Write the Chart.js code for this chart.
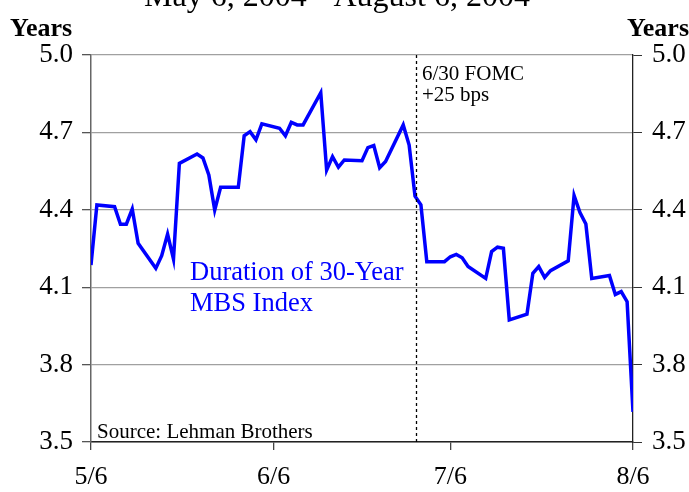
<!DOCTYPE html>
<html>
<head>
<meta charset="utf-8">
<script src="https://cdn.jsdelivr.net/npm/chart.js@4.4.1/dist/chart.umd.min.js"></script>
<style>
  html, body { margin: 0; padding: 0; background: #fff; }
  #wrap { width: 689px; height: 492px; position: relative; }
</style>
</head>
<body>
<div id="wrap"><canvas id="mbsChart"></canvas></div>
<script>
// days counted from 5/6/2004
const dayOffsets = [0, 1, 4, 5, 6, 7, 8, 11, 12, 13, 14, 15, 18, 19, 20, 21, 22, 25, 26, 27, 28, 29,
    32, 33, 34, 35, 36, 39, 40, 41, 42, 43, 46, 47, 48, 49, 50, 53, 54, 55, 56, 57, 60,
    61, 62, 63, 64, 67, 68, 69, 70, 71, 74, 75, 76, 77, 78, 81, 82, 83, 84, 85, 88, 89, 90, 91, 92];
const durationYears = [4.186, 4.419, 4.412, 4.344, 4.344, 4.403, 4.270, 4.173, 4.222, 4.306, 4.209, 4.580,
    4.616, 4.601, 4.535, 4.399, 4.487, 4.487, 4.687, 4.703, 4.671, 4.733,
    4.716, 4.687, 4.739, 4.729, 4.729, 4.854, 4.554, 4.606, 4.565, 4.593, 4.590, 4.641, 4.649, 4.563, 4.587,
    4.729, 4.651, 4.453, 4.419, 4.199, 4.199,
    4.218, 4.227, 4.214, 4.180, 4.134, 4.238, 4.255, 4.251, 3.973, 3.995, 4.154, 4.180, 4.138, 4.164,
    4.202, 4.455, 4.389, 4.345, 4.134, 4.145, 4.072, 4.083, 4.044, 3.617];
const xTickDays = [0, 31, 61, 92];
const xTickLabels = ['5/6', '6/6', '7/6', '8/6'];
const yTicks = [3.5, 3.8, 4.1, 4.4, 4.7, 5.0];
const fomcDay = 55.2;

const serif = '"Liberation Serif", "Times New Roman", serif';

// title, axis units, notes and the FOMC marker
const annotations = {
    id: 'annotations',
    afterDatasetsDraw(chart) {
        const { ctx, chartArea, scales } = chart;
        ctx.save();
        // dotted FOMC line
        const fx = Math.round(scales.x.getPixelForValue(fomcDay)) + 0.5;
        ctx.strokeStyle = '#000';
        ctx.lineWidth = 1.3;
        ctx.setLineDash([3, 3]);
        ctx.beginPath();
        ctx.moveTo(fx, chartArea.top);
        ctx.lineTo(fx, chartArea.bottom);
        ctx.stroke();
        ctx.setLineDash([]);

        ctx.fillStyle = '#000';
        ctx.textBaseline = 'alphabetic';
        ctx.font = '32px ' + serif;
        ctx.textAlign = 'center';
        ctx.fillText('May 6, 2004 - August 6, 2004', 337, 6);

        ctx.font = 'bold 26px ' + serif;
        ctx.textAlign = 'left';
        ctx.fillText('Years', 10, 36);
        ctx.textAlign = 'right';
        ctx.fillText('Years', 689, 36);

        ctx.textAlign = 'left';
        ctx.font = '21px ' + serif;
        ctx.fillText('6/30 FOMC', 422, 80);
        ctx.fillText('+25 bps', 422, 101);
        ctx.fillText('Source: Lehman Brothers', 97, 438);

        ctx.fillStyle = '#0000ff';
        ctx.font = '26.5px ' + serif;
        ctx.fillText('Duration of 30-Year', 190, 280);
        ctx.fillText('MBS Index', 190, 311);
        ctx.restore();
    }
};

const yAxisBase = {
    type: 'linear',
    min: 3.5,
    max: 5.0,
    afterBuildTicks: (axis) => { axis.ticks = yTicks.map(v => ({ value: v })); }
};

new Chart(document.getElementById('mbsChart'), {
    type: 'line',
    data: {
        datasets: [{
            label: 'Duration of 30-Year MBS Index',
            data: dayOffsets.map((d, i) => ({ x: d, y: durationYears[i] })),
            borderColor: '#0000ff',
            borderWidth: 3.5,
            pointRadius: 0,
            tension: 0,
            fill: false,
            yAxisID: 'y'
        }]
    },
    options: {
        responsive: true,
        maintainAspectRatio: false,
        animation: false,
        layout: { padding: { top: 55, right: 0, bottom: 0, left: 0 } },
        plugins: {
            legend: { display: false },
            tooltip: { enabled: false }
        },
        scales: {
            x: {
                type: 'linear',
                min: 0,
                max: 92,
                afterBuildTicks: (axis) => { axis.ticks = xTickDays.map(v => ({ value: v })); },
                afterFit: (axis) => { axis.height = 50; },
                ticks: {
                    color: '#000',
                    font: { family: serif, size: 26 },
                    padding: 12,
                    maxRotation: 0,
                    autoSkip: false,
                    callback: (v) => xTickLabels[xTickDays.indexOf(v)]
                },
                grid: { drawOnChartArea: false, color: '#444', tickLength: 8, lineWidth: 1.3 },
                border: { color: '#222', width: 1.5 }
            },
            y: {
                ...yAxisBase,
                position: 'left',
                afterFit: (axis) => { axis.width = 91; },
                ticks: {
                    color: '#000',
                    font: { family: serif, size: 27 },
                    padding: 9,
                    callback: (v) => v.toFixed(1)
                },
                grid: { color: '#a0a0a0', lineWidth: 1.3, tickLength: 9, tickColor: '#555' },
                border: { color: '#666', width: 1.5 }
            },
            y2: {
                ...yAxisBase,
                position: 'right',
                afterFit: (axis) => { axis.width = 56; },
                ticks: {
                    color: '#000',
                    font: { family: serif, size: 27 },
                    padding: 10,
                    callback: (v) => v.toFixed(1)
                },
                grid: { drawOnChartArea: false, tickLength: 9, color: '#333' },
                border: { color: '#222', width: 1.3 }
            }
        }
    },
    plugins: [annotations]
});
</script>
</body>
</html>
